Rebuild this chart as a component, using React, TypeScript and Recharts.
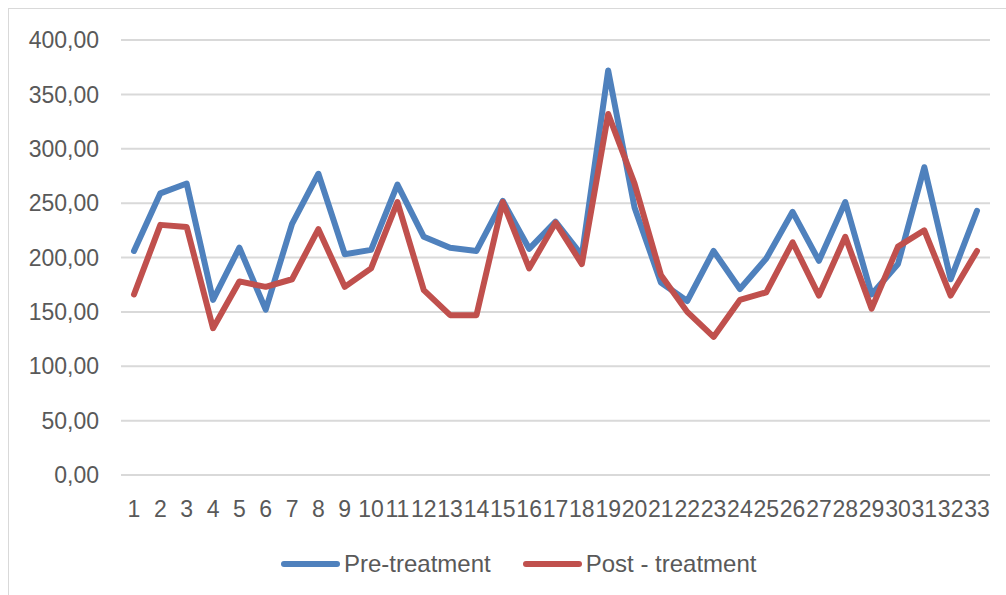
import React from "react";
import {
  LineChart,
  Line,
  XAxis,
  YAxis,
  CartesianGrid,
  Legend,
} from "recharts";

const categories = [
  "1", "2", "3", "4", "5", "6", "7", "8", "9", "10", "11", "12", "13", "14", "15", "16", "17",
  "18", "19", "20", "21", "22", "23", "24", "25", "26", "27", "28", "29", "30", "31", "32", "33",
];

const preTreatment = [
  206, 259, 268, 161, 209, 152, 231, 277, 203, 207, 267, 219, 209, 206, 252, 208, 233,
  202, 372, 246, 177, 160, 206, 171, 199, 242, 197, 251, 166, 194, 283, 180, 243,
];

const postTreatment = [
  166, 230, 228, 135, 178, 173, 180, 226, 173, 190, 251, 170, 147, 147, 251, 190, 232,
  194, 332, 268, 184, 150, 127, 161, 168, 214, 165, 219, 153, 210, 225, 165, 206,
];

const yTicks = [0, 50, 100, 150, 200, 250, 300, 350, 400];

const data = categories.map((c, i) => ({
  name: c,
  pre: preTreatment[i],
  post: postTreatment[i],
}));

const FONT = "'Liberation Sans', Arial, sans-serif";
const TEXT = "#595959";
const BLUE = "#4f81bd";
const RED = "#c0504d";

const fmt = (v: number) => v.toFixed(2).replace(".", ",");

function renderLegend() {
  const items = [
    { label: "Pre-treatment", color: BLUE },
    { label: "Post - treatment", color: RED },
  ];
  return (
    <div
      style={{
        display: "flex",
        alignItems: "center",
        paddingLeft: 281,
        height: 40,
        fontFamily: FONT,
        fontSize: 24,
        color: TEXT,
      }}
    >
      {items.map((it, i) => (
        <div
          key={it.label}
          style={{ display: "flex", alignItems: "center", marginRight: i === 0 ? 32 : 0 }}
        >
          <div
            style={{
              width: 59,
              height: 6,
              borderRadius: 3,
              background: it.color,
              marginRight: 4,
            }}
          />
          <span>{it.label}</span>
        </div>
      ))}
    </div>
  );
}

export default function App() {
  return (
    <div
      style={{
        position: "absolute",
        left: 0,
        top: 0,
        width: 1006,
        height: 595,
        overflow: "hidden",
        background: "#fff",
      }}
    >
      <div
        style={{
          position: "absolute",
          left: 8,
          top: 8,
          width: 1200,
          height: 800,
          border: "1.5px solid #d9d9d9",
        }}
      />
      <div style={{ position: "absolute", left: 0, top: 0 }}>
        <LineChart
          width={1006}
          height={595}
          data={data}
          margin={{ top: 40, right: 16, left: 0, bottom: 11 }}
        >
          <CartesianGrid vertical={false} stroke="#d9d9d9" strokeWidth={2} />
          <XAxis
            dataKey="name"
            axisLine={false}
            tickLine={false}
            interval={0}
            height={69}
            tickMargin={20}
            padding={{ left: 13, right: 13 }}
            tick={{ fill: TEXT, fontSize: 23, fontFamily: FONT }}
          />
          <YAxis
            domain={[0, 400]}
            ticks={yTicks}
            width={121}
            axisLine={false}
            tickLine={false}
            tickMargin={16}
            tickFormatter={fmt}
            tick={{ fill: TEXT, fontSize: 23, fontFamily: FONT }}
          />
          <Legend verticalAlign="bottom" content={renderLegend} />
          <Line
            type="linear"
            dataKey="pre"
            name="Pre-treatment"
            stroke={BLUE}
            strokeWidth={6}
            strokeLinejoin="round"
            strokeLinecap="round"
            dot={false}
            activeDot={false}
            isAnimationActive={false}
          />
          <Line
            type="linear"
            dataKey="post"
            name="Post - treatment"
            stroke={RED}
            strokeWidth={6}
            strokeLinejoin="round"
            strokeLinecap="round"
            dot={false}
            activeDot={false}
            isAnimationActive={false}
          />
        </LineChart>
      </div>
    </div>
  );
}
